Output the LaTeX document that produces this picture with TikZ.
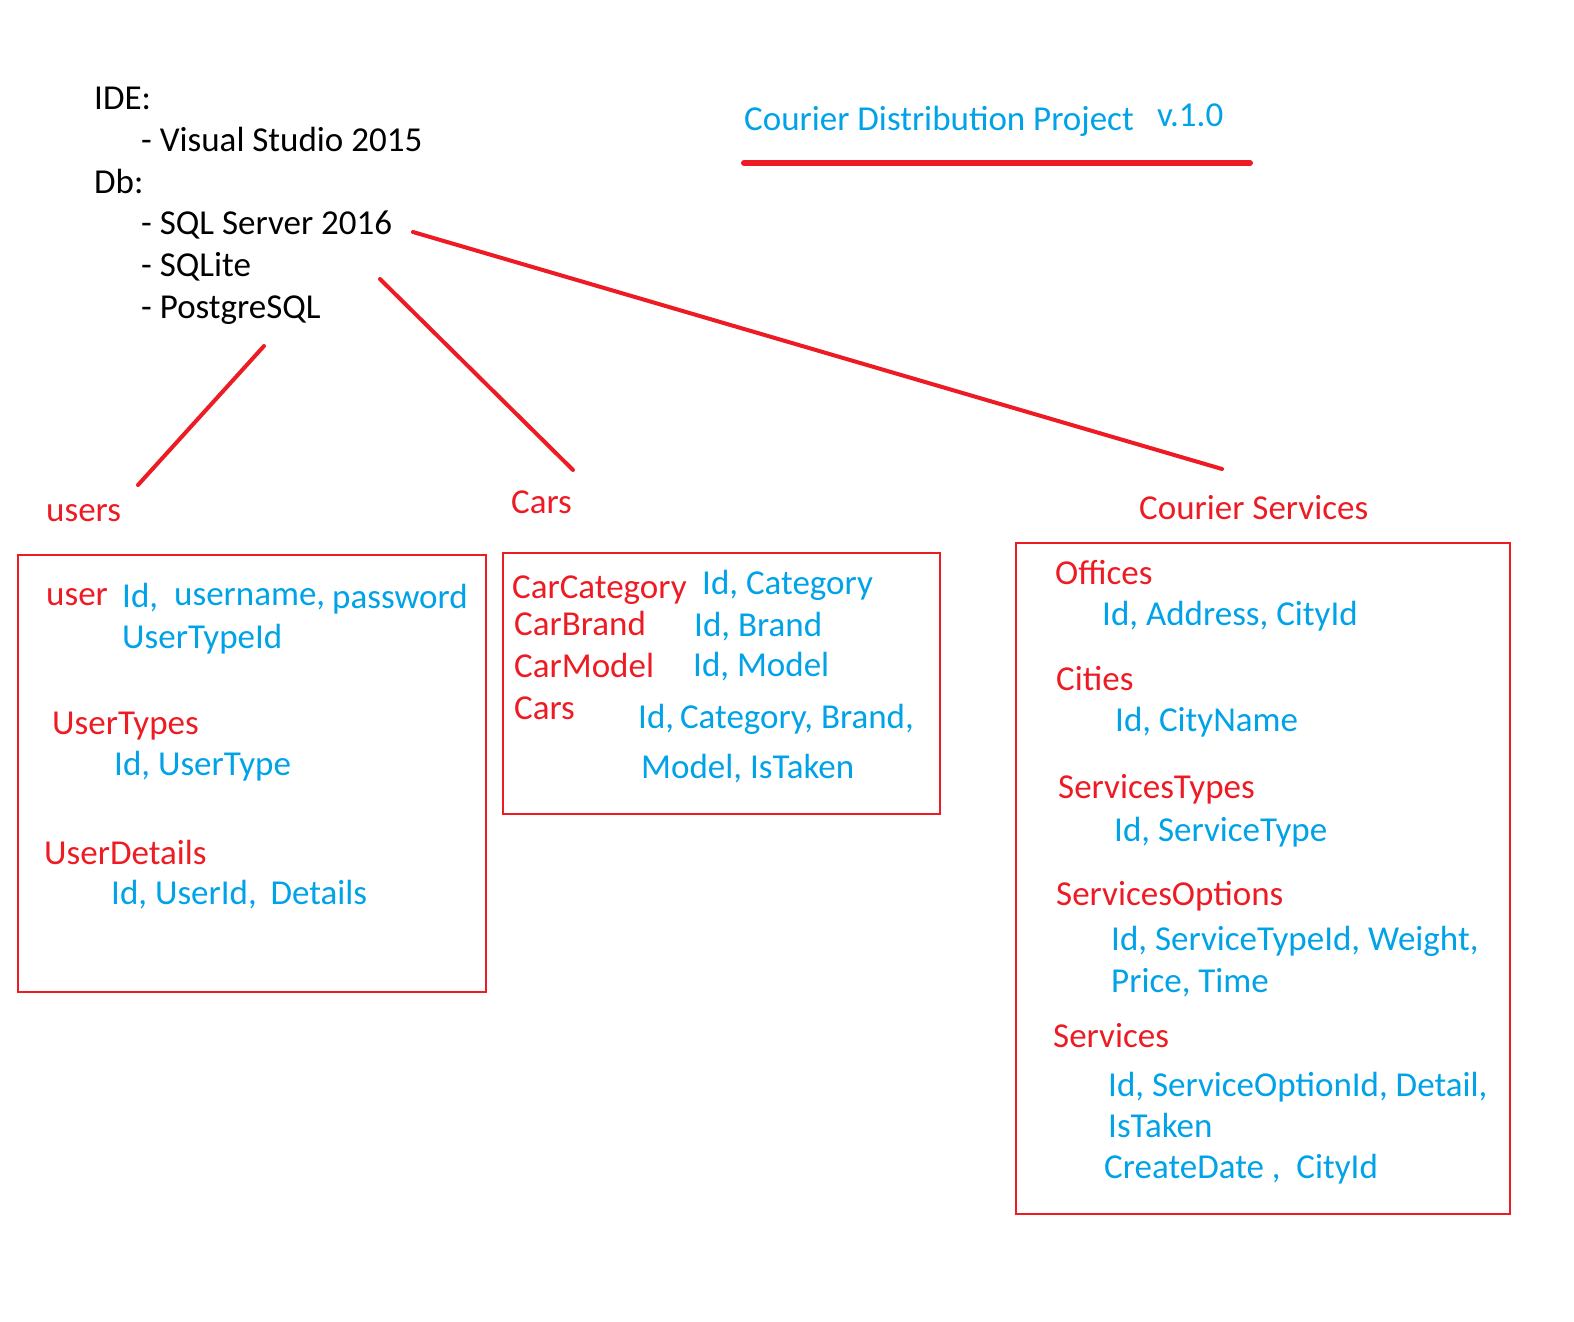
\documentclass[tikz,border=0pt]{standalone}
\usepackage{fontspec}
\setmainfont{Carlito}
\definecolor{pred}{HTML}{ED1C24}
\definecolor{pblue}{HTML}{00A2E8}
\begin{document}
\begin{tikzpicture}[x=1pt,y=-1pt,
  every node/.style={inner sep=0pt,anchor=base west,font=\fontsize{35}{41}\selectfont},
  rt/.style={text=pred},
  bt/.style={text=pblue},
  kt/.style={text=black},
  tablebox/.style={draw=pred,line width=1.3pt},
  conn/.style={draw=pred,line width=4pt,line cap=round}]
\fill[white] (0,0) rectangle (1574,1322);
\useasboundingbox (0,0) rectangle (1574,1322);

% header text
\node[kt] (ide) at (94,109) {IDE:};
\node[kt] (vs) at (141,151) {- Visual Studio 2015};
\node[kt] (db) at (94,193) {Db:};
\node[kt] (sqls) at (141,234) {- SQL Server 2016};
\node[kt] (sqlite) at (141,276) {- SQLite};
\node[kt] (pg) at (141,318) {- PostgreSQL};

\node[bt] (title) at (744,130) {Courier Distribution Project};
\node[bt] (ver) at (1157,126) {v.1.0};
\coordinate (ulA) at (744,163);
\coordinate (ulB) at (1250,163);
\draw[conn,line width=6pt] (ulA) -- (ulB);

% connectors
\coordinate (c1a) at (413,232);
\coordinate (c1b) at (1222,469);
\coordinate (c2a) at (380,279);
\coordinate (c2b) at (573,470);
\coordinate (c3a) at (264,346);
\coordinate (c3b) at (138,485);
\draw[conn] (c1a) -- (c1b);
\draw[conn] (c2a) -- (c2b);
\draw[conn] (c3a) -- (c3b);

% group labels
\node[rt] (users) at (46,521) {users};
\node[rt] (cars) at (511,513) {Cars};
\node[rt] (cs) at (1139,519) {Courier Services};

% boxes
\coordinate (b1a) at (18,555);
\coordinate (b1b) at (486,992);
\draw[tablebox] (b1a) rectangle (b1b);
\coordinate (b2a) at (503,553);
\coordinate (b2b) at (940,814);
\draw[tablebox] (b2a) rectangle (b2b);
\coordinate (b3a) at (1016,543);
\coordinate (b3b) at (1510,1214);
\draw[tablebox] (b3a) rectangle (b3b);

% users box
\node[rt] (u1) at (46,605) {user};
\node[bt] (u1a) at (122,607) {Id,};
\node[bt] (u1b) at (174,605) {username,};
\node[bt] (u1c) at (332,608) {password};
\node[bt] (u2) at (122,648) {UserTypeId};
\node[rt] (ut) at (52,734) {UserTypes};
\node[bt] (ut1) at (114,775) {Id, UserType};
\node[rt] (ud) at (44,864) {UserDetails};
\node[bt] (ud1) at (111,904) {Id, UserId,\, Details};

% cars box
\node[rt] (cc) at (512,598) {CarCategory};
\node[bt] (cc1) at (702,594) {Id, Category};
\node[rt] (cb) at (514,635) {CarBrand};
\node[bt] (cb1) at (694,636) {Id, Brand};
\node[rt] (cm) at (514,677) {CarModel};
\node[bt] (cm1) at (693,676) {Id, Model};
\node[rt] (cr) at (514,719) {Cars};
\node[bt] (cr1) at (638,728) {Id,\kern-2pt{} Category, Brand,};
\node[bt] (cr2) at (641,778) {Model, IsTaken};

% courier services box
\node[rt] (of) at (1055,584) {Offices};
\node[bt] (of1) at (1102,625) {Id, Address, CityId};
\node[rt] (ci) at (1056,690) {Cities};
\node[bt] (ci1) at (1115,731) {Id, CityName};
\node[rt] (st) at (1058,798) {ServicesTypes};
\node[bt] (st1) at (1114,841) {Id, ServiceType};
\node[rt] (so) at (1056,905) {ServicesOptions};
\node[bt] (so1) at (1111,950) {Id, ServiceTypeId, Weight,};
\node[bt] (so2) at (1111,992) {Price, Time};
\node[rt] (sv) at (1053,1047) {Services};
\node[bt] (sv1) at (1108,1096) {Id, ServiceOptionId, Detail,};
\node[bt] (sv2) at (1108,1137) {IsTaken};
\node[bt] (sv3) at (1104,1178) {CreateDate ,\ \ CityId};
\end{tikzpicture}
\end{document}
